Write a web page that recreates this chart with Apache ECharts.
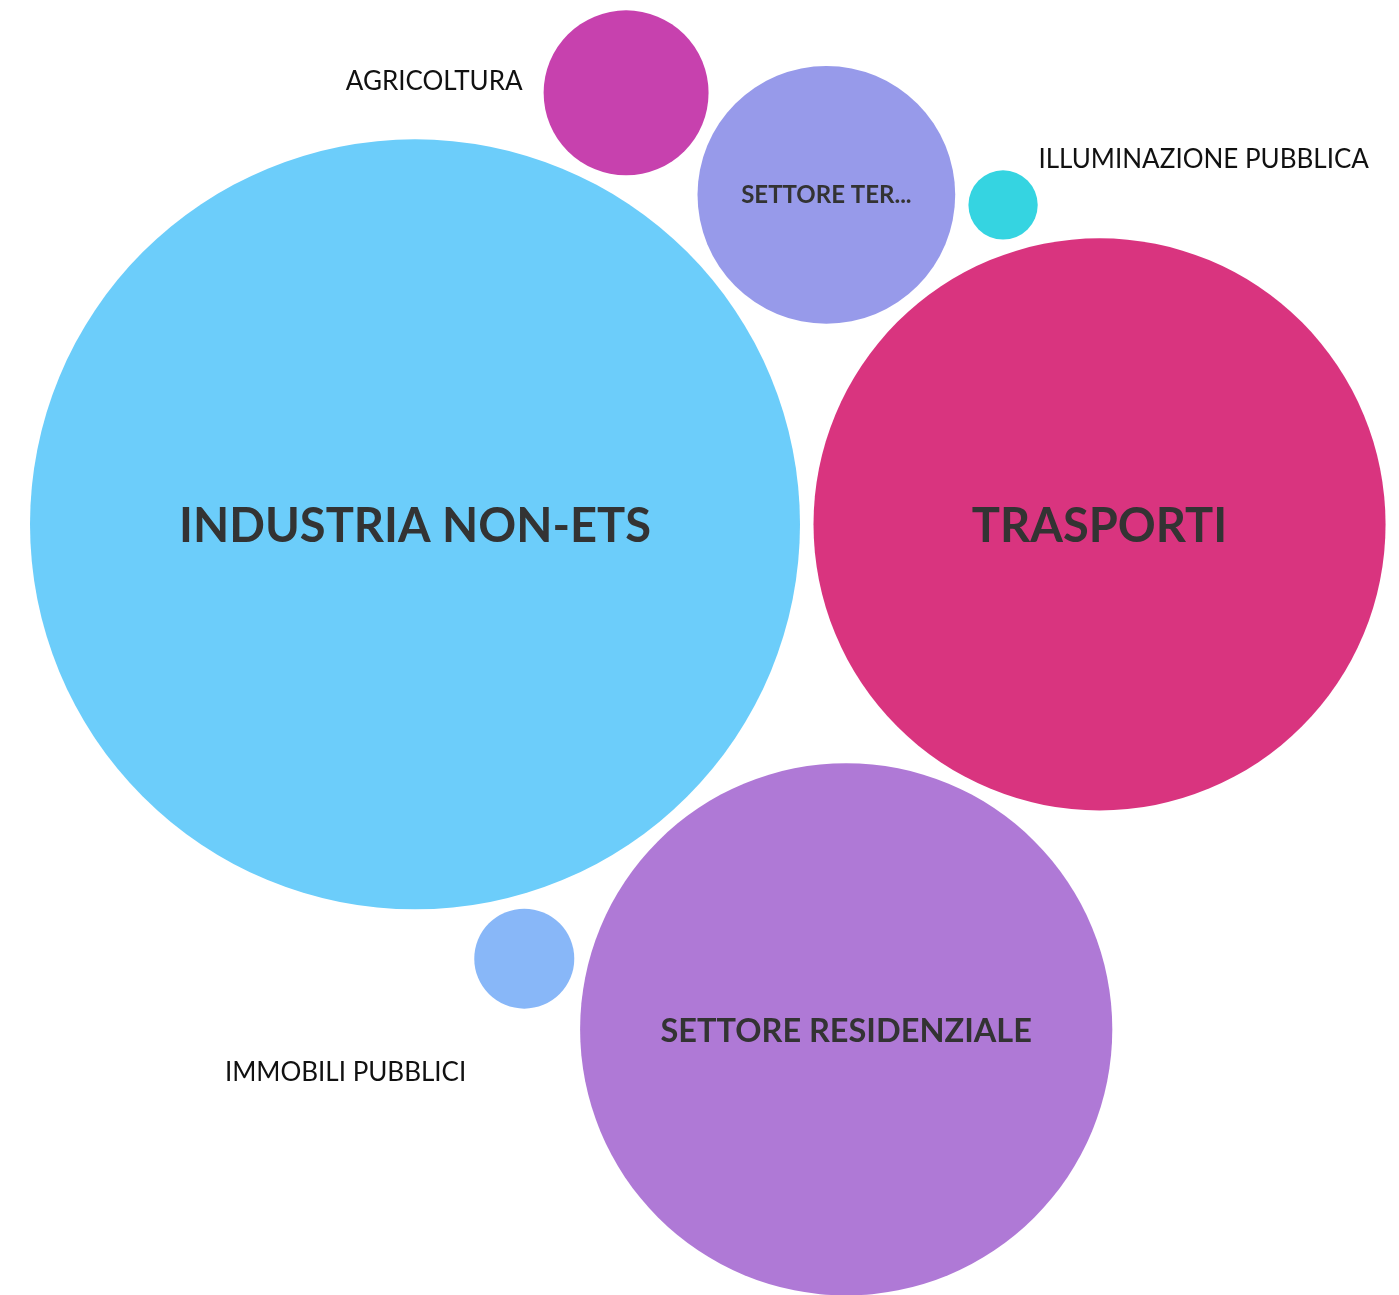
<!DOCTYPE html>
<html>
<head>
<meta charset="utf-8">
<title>Emissioni per settore</title>
<script src="https://cdn.jsdelivr.net/npm/echarts@6/dist/echarts.min.js"></script>
<style>
    html, body { margin: 0; padding: 0; background: #ffffff; }
    #chart { width: 1399px; height: 1295px; }
</style>
</head>
<body>
<div id="chart"></div>
<script>
// settori e valori (emissioni, kt CO2 eq)
var sectors = ['INDUSTRIA NON-ETS', 'TRASPORTI', 'SETTORE RESIDENZIALE', 'SETTORE TERZIARIO',
    'AGRICOLTURA', 'IMMOBILI PUBBLICI', 'ILLUMINAZIONE PUBBLICA'];
var values = [148.2, 81.8, 70.8, 16.6, 6.8, 2.5, 1.2];
var colors = ['#6ccdfa', '#d9347f', '#af79d6', '#979aea', '#c741ae', '#88b7f8', '#35d4e1'];

// regole di impaccamento: ogni bolla tocca una o due bolle gia' posizionate
var packRules = [
    null,                        // prima bolla al centro
    { ref: [0], angle: 0 },      // a destra della prima
    { ref: [0, 1], side: -1 },
    { ref: [0, 1], side: 1 },
    { ref: [0, 3], side: 1 },
    { ref: [0, 2], side: -1 },
    { ref: [3, 1], side: 1 }
];

var maxRadius = 385;   // raggio in px della bolla piu' grande
var gap = 13.5;        // spazio tra le bolle

var k = maxRadius / Math.sqrt(Math.max.apply(null, values));
var radii = values.map(function (v) { return Math.sqrt(v) * k; });
var pos = [];

for (var i = 0; i < values.length; i++) {
    var rule = packRules[i];
    var r = radii[i];
    if (!rule) {
        pos.push([0, 0]);
    } else if (rule.ref.length === 1) {
        var a0 = pos[rule.ref[0]];
        var d0 = radii[rule.ref[0]] + r + gap;
        pos.push([a0[0] + d0 * Math.cos(rule.angle), a0[1] + d0 * Math.sin(rule.angle)]);
    } else {
        // cerchio tangente a due cerchi (intersezione di due circonferenze)
        var A = pos[rule.ref[0]], B = pos[rule.ref[1]];
        var dA = radii[rule.ref[0]] + r + gap;
        var dB = radii[rule.ref[1]] + r + gap;
        var dx = B[0] - A[0], dy = B[1] - A[1];
        var d = Math.sqrt(dx * dx + dy * dy);
        var ux = dx / d, uy = dy / d;
        var a = (dA * dA - dB * dB + d * d) / (2 * d);
        var h = Math.sqrt(Math.max(0, dA * dA - a * a));
        pos.push([A[0] + a * ux - rule.side * h * uy, A[1] + a * uy + rule.side * h * ux]);
    }
}

// ingombro totale
var minX = Infinity, maxX = -Infinity, minY = Infinity, maxY = -Infinity;
for (var j = 0; j < pos.length; j++) {
    minX = Math.min(minX, pos[j][0] - radii[j]);
    maxX = Math.max(maxX, pos[j][0] + radii[j]);
    minY = Math.min(minY, pos[j][1] - radii[j]);
    maxY = Math.max(maxY, pos[j][1] + radii[j]);
}

// etichette: dentro le bolle grandi, fuori per quelle piccole
var insideLabel = {
    'INDUSTRIA NON-ETS': { fontSize: 47, offset: [0, 2] },
    'TRASPORTI': { fontSize: 47, offset: [0, 2] },
    'SETTORE RESIDENZIALE': { fontSize: 32.5, offset: [0, 2] },
    'SETTORE TERZIARIO': { fontSize: 24, width: 176, overflow: 'truncate', ellipsis: '...' }
};
var outsideLabel = {
    'AGRICOLTURA': { position: [-21, 71], align: 'right' },
    'ILLUMINAZIONE PUBBLICA': { position: [70, -11], align: 'left' },
    'IMMOBILI PUBBLICI': { position: [-8, 164], align: 'right' }
};

var seriesData = sectors.map(function (name, idx) {
    var label;
    if (insideLabel[name]) {
        label = Object.assign({
            show: true,
            position: 'inside',
            fontFamily: 'Lato',
            fontWeight: 'bold',
            color: '#333333'
        }, insideLabel[name]);
    } else {
        label = Object.assign({
            show: true,
            verticalAlign: 'middle',
            fontFamily: 'Lato',
            fontWeight: 'normal',
            fontSize: 26,
            color: '#111111'
        }, outsideLabel[name]);
    }
    return {
        name: name,
        value: [pos[idx][0], pos[idx][1], values[idx]],
        symbolSize: radii[idx] * 2,
        itemStyle: { color: colors[idx], opacity: 1 },
        label: label
    };
});

var chart = echarts.init(document.getElementById('chart'));
chart.setOption({
    animation: false,
    backgroundColor: '#ffffff',
    grid: {
        left: 30,
        top: 10.5,
        width: maxX - minX,
        height: maxY - minY
    },
    xAxis: { type: 'value', min: minX, max: maxX, show: false },
    yAxis: { type: 'value', min: minY, max: maxY, show: false },
    series: [{
        type: 'scatter',
        symbol: 'circle',
        clip: false,
        silent: true,
        itemStyle: { opacity: 1 },
        label: { formatter: '{b}' },
        data: seriesData
    }]
});
</script>
</body>
</html>
